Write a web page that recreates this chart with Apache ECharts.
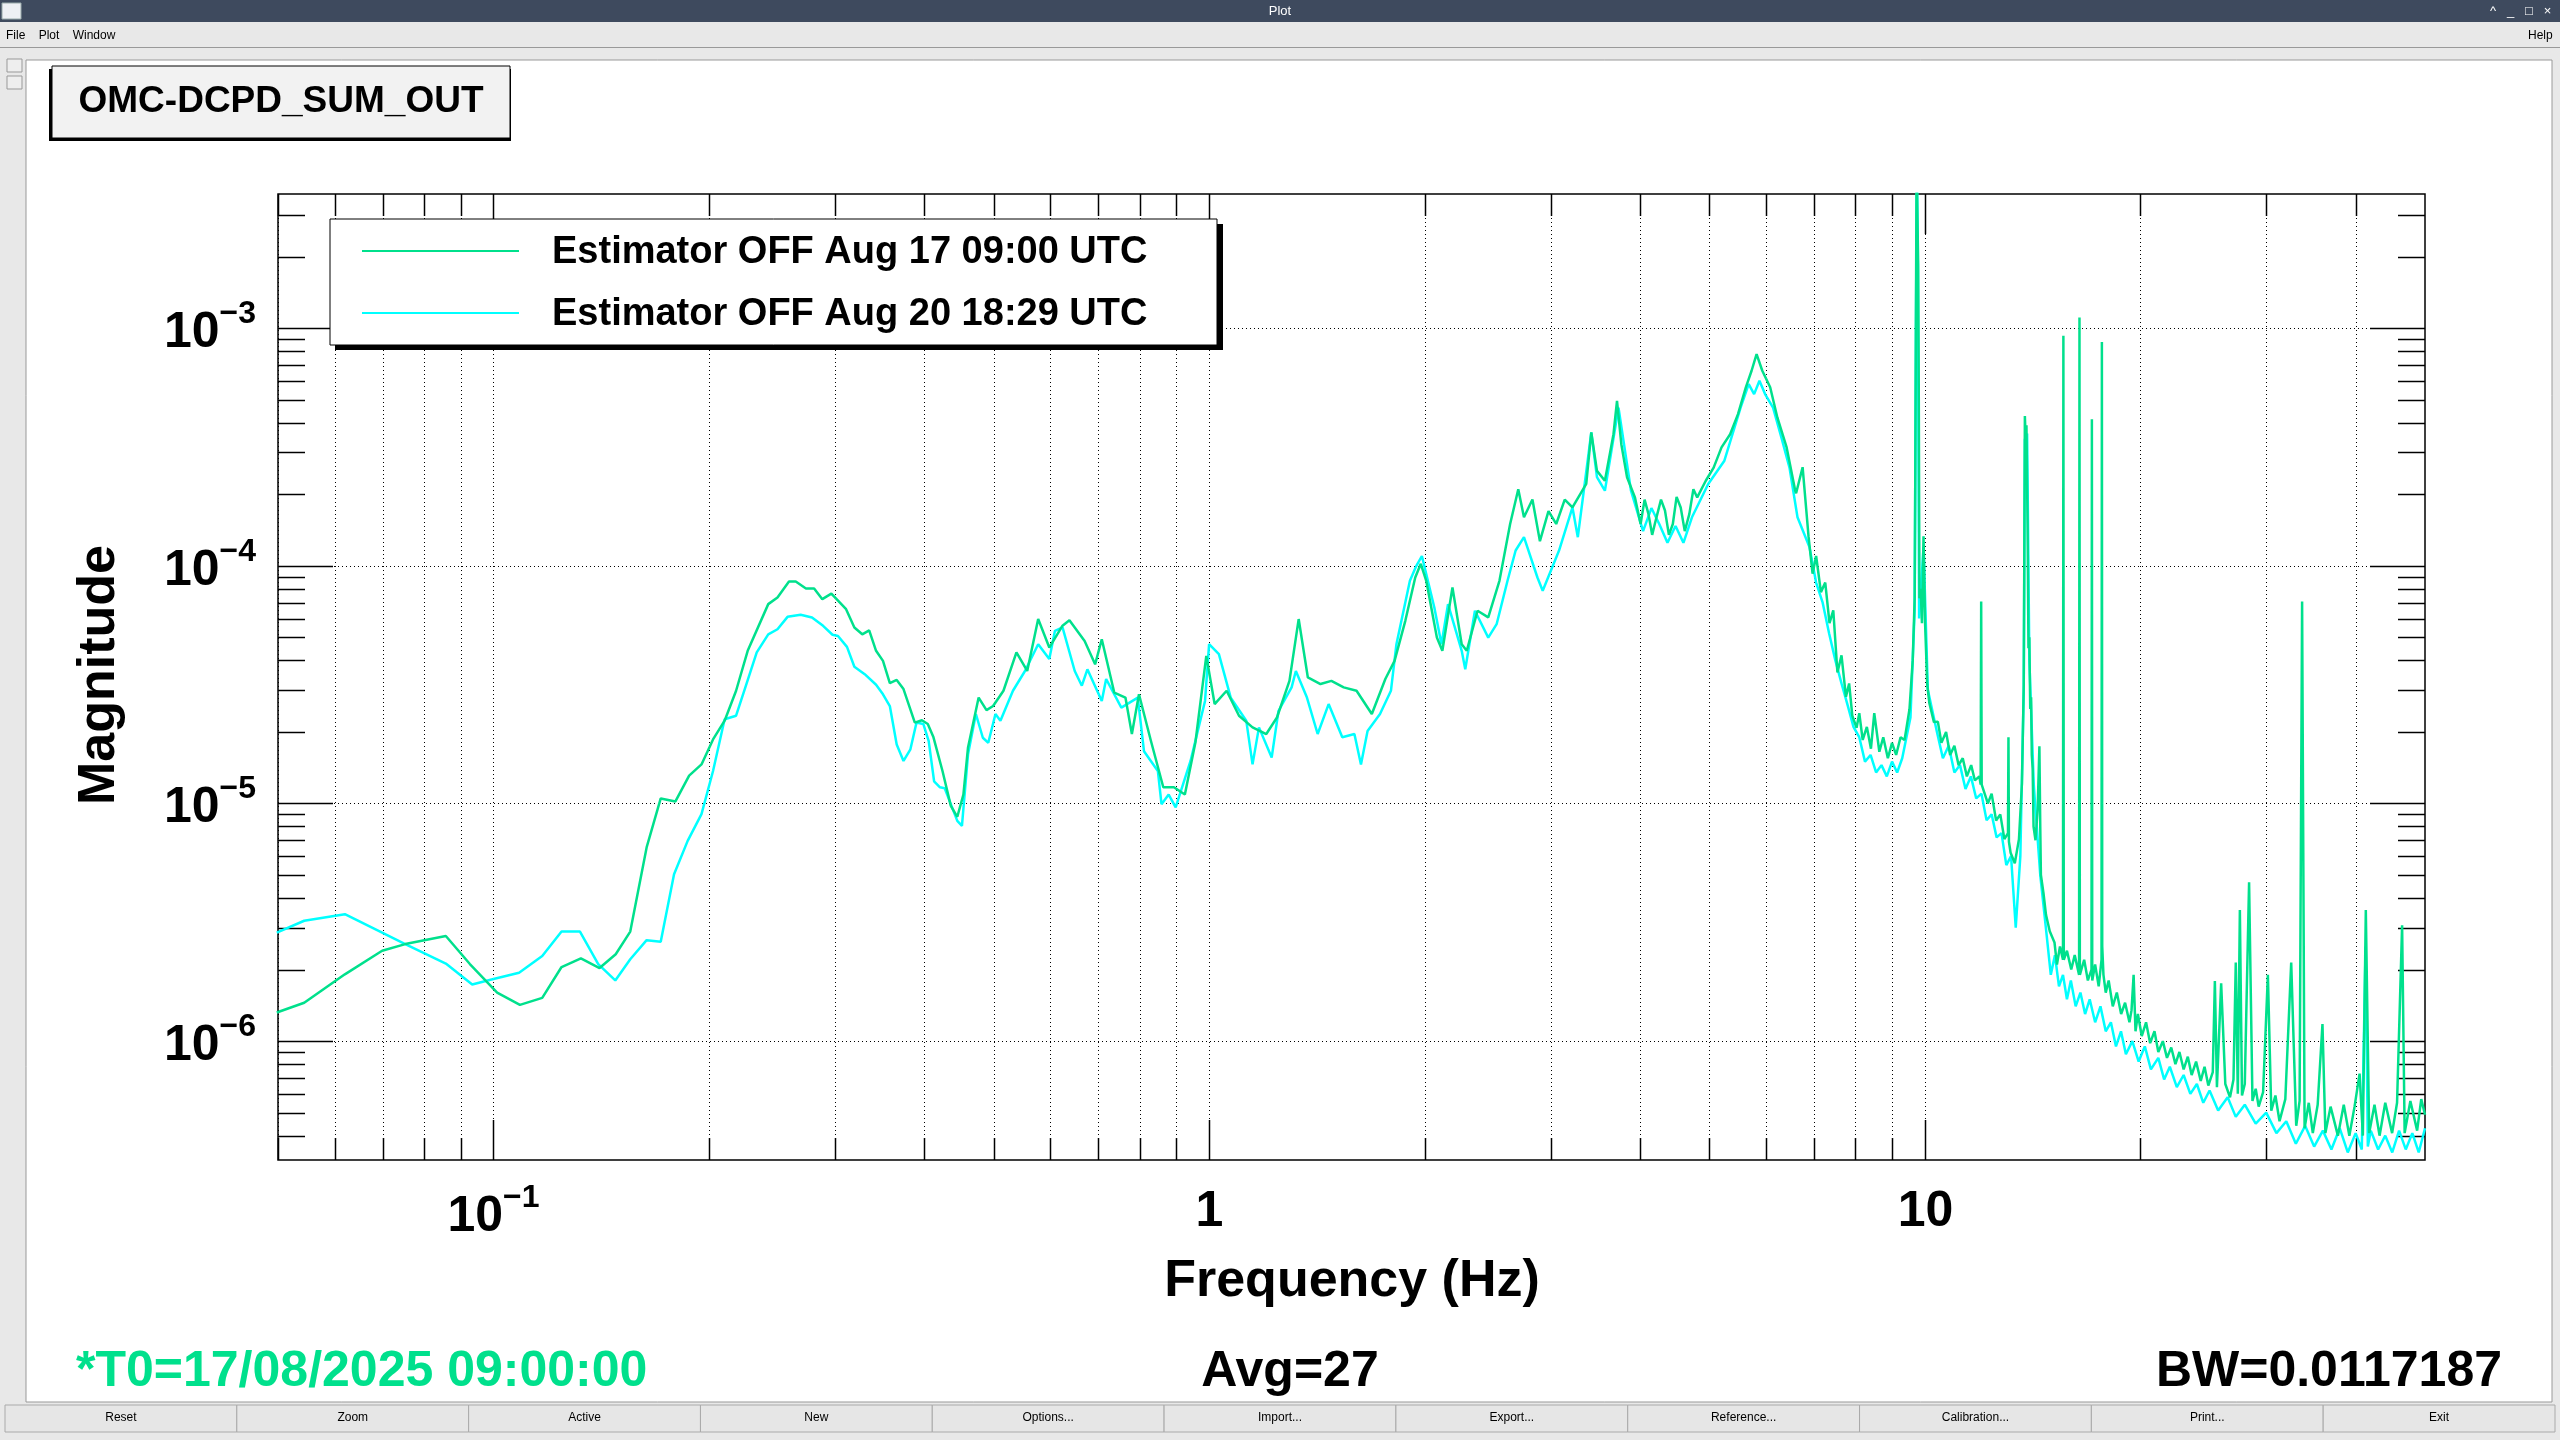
<!DOCTYPE html>
<html>
<head>
<meta charset="utf-8">
<script src="https://cdn.jsdelivr.net/npm/echarts@6/dist/echarts.min.js"></script>
<style>
  html, body { margin: 0; padding: 0; background: #e8e8e8; }
  #chart { width: 2560px; height: 1440px; }
</style>
</head>
<body>
<div id="chart"></div>
<script>
// series names (legend)
const seriesNames = ['Estimator OFF Aug 17 09:00 UTC', 'Estimator OFF Aug 20 18:29 UTC']
const seriesColors = ['#00e08c', '#00ffff']

// Aug 17 spectrum [Hz, magnitude]
const aug17 = [
  [0.0498,1.32e-6],[0.0544,1.45e-6],[0.0620,1.91e-6],[0.0699,2.40e-6],[0.0753,2.56e-6],[0.0858,2.77e-6],[0.0927,2.11e-6],[0.1012,1.60e-6],[0.1089,1.42e-6],[0.1170,1.52e-6],[0.1245,2.05e-6],[0.1325,2.23e-6],[0.1407,2.03e-6],[0.1482,2.32e-6],[0.1553,2.89e-6],[0.1637,6.53e-6],[0.1713,1.05e-5],[0.1796,1.02e-5],[0.1877,1.31e-5],[0.1953,1.46e-5],[0.2027,1.86e-5],[0.2104,2.23e-5],[0.2183,2.98e-5],[0.2266,4.39e-5],[0.2421,6.90e-5],[0.2494,7.36e-5],[0.2588,8.59e-5],[0.2645,8.59e-5],[0.2733,8.03e-5],[0.2806,8.03e-5],[0.2881,7.24e-5],[0.2966,7.64e-5],[0.3110,6.57e-5],[0.3194,5.50e-5],[0.3276,5.15e-5],[0.3350,5.35e-5],[0.3425,4.39e-5],[0.3502,3.98e-5],[0.3580,3.21e-5],[0.3660,3.31e-5],[0.3741,3.03e-5],[0.3880,2.19e-5],[0.3969,2.24e-5],[0.4045,2.16e-5],[0.4117,1.91e-5],[0.4241,1.37e-5],[0.4356,9.77e-6],[0.4448,8.79e-6],[0.4536,1.09e-5],[0.4604,1.72e-5],[0.4764,2.79e-5],[0.4886,2.47e-5],[0.4991,2.57e-5],
  [0.516,2.98e-5],[0.538,4.32e-5],[0.557,3.61e-5],[0.577,5.97e-5],[0.598,4.53e-5],[0.624,5.60e-5],[0.638,5.90e-5],[0.670,4.83e-5],[0.693,3.85e-5],[0.708,4.91e-5],[0.737,2.93e-5],[0.764,2.79e-5],[0.780,1.96e-5],[0.798,2.88e-5],[0.829,1.84e-5],[0.863,1.17e-5],[0.893,1.17e-5],[0.925,1.09e-5],[0.957,1.81e-5],[0.991,4.18e-5],[1.018,2.62e-5],[1.058,2.98e-5],[1.101,2.34e-5],[1.150,2.09e-5],[1.202,1.96e-5],[1.244,2.30e-5],[1.295,3.28e-5],[1.334,5.97e-5],[1.374,3.39e-5],[1.431,3.18e-5],[1.482,3.28e-5],[1.542,3.08e-5],[1.607,2.98e-5],[1.688,2.38e-5],[1.763,3.34e-5],[1.816,3.98e-5],[1.880,5.87e-5],[1.941,8.93e-5],[1.976,1.02e-4],[2.011,8.65e-5],[2.081,4.99e-5],[2.118,4.39e-5],[2.188,8.11e-5],[2.254,4.68e-5],[2.291,4.39e-5],[2.372,6.47e-5],[2.455,6.07e-5],[2.545,8.65e-5],[2.634,1.50e-4],[2.704,2.10e-4],[2.754,1.60e-4],[2.83,1.9e-4],[2.899,1.27e-4],[2.98,1.7e-4],[3.055,1.50e-4],[3.14,1.9e-4],[3.219,1.76e-4],[3.365,2.21e-4],[3.420,3.64e-4],[3.483,2.51e-4],[3.573,2.28e-4],[3.673,3.58e-4],[3.715,4.95e-4],[3.767,3.25e-4],[3.837,2.36e-4],[3.936,1.94e-4],[4.008,1.50e-4],[4.06,1.9e-4],[4.111,1.65e-4],[4.16,1.35e-4],[4.218,1.60e-4],[4.28,1.9e-4],[4.335,1.71e-4],[4.39,1.35e-4],[4.446,1.50e-4],[4.50,1.95e-4],[4.560,1.76e-4],[4.62,1.4e-4],[4.688,1.65e-4],[4.75,2.1e-4],[4.809,1.94e-4],[4.943,2.28e-4],[5.070,2.59e-4],[5.200,3.15e-4],[5.346,3.58e-4],[5.483,4.35e-4],[5.623,5.64e-4],[5.728,6.62e-4],[5.821,7.78e-4],[5.929,6.62e-4],[6.081,5.64e-4],[6.223,4.21e-4],[6.412,3.15e-4],[6.592,2.07e-4],
  [6.61,2.02e-4],[6.75,2.6e-4],[6.88,1.33e-4],[6.97,9.27e-5],[7.05,1.1e-4],[7.16,7.75e-5],[7.26,8.5e-5],[7.36,5.74e-5],[7.45,6.5e-5],[7.55,3.56e-5],[7.65,4.2e-5],[7.76,2.81e-5],[7.84,3.2e-5],[7.92,2.34e-5],[8.03,2.08e-5],[8.1,2.4e-5],[8.19,1.85e-5],[8.3,2.1e-5],[8.41,1.7e-5],[8.5,2.4e-5],[8.64,1.65e-5],[8.75,1.9e-5],[8.88,1.55e-5],[9.0,1.8e-5],[9.12,1.6e-5],[9.25,1.9e-5],[9.37,1.85e-5],[9.52,2.49e-5],[9.62,4.01e-5],[9.68,7.3e-5],[9.70,2.5e-4],[9.72,1.14e-3],[9.74,5e-3],[9.76,5e-3],[9.79,1.85e-3],[9.81,5e-4],[9.83,7.3e-5],[9.87,8e-5],[9.91,5.74e-5],[9.96,1.33e-4],[10.01,5.74e-5],[10.08,3.16e-5],[10.15,2.64e-5],[10.3,2.2e-5],[10.43,2.21e-5],[10.55,1.8e-5],[10.71,2.0e-5],[10.85,1.6e-5],[11.0,1.75e-5],[11.15,1.45e-5],[11.3,1.55e-5],[11.45,1.3e-5],[11.61,1.45e-5],[11.75,1.25e-5],[11.92,1.3e-5],[11.97,1.2e-5],[11.99,7.08e-5],[12.01,1.2e-5],[12.08,1.21e-5],[12.25,1.0e-5],[12.4,1.1e-5],[12.58,8.48e-6],[12.75,9e-6],[12.92,7.08e-6],[13.07,7.5e-6],[13.09,1.9e-5],[13.11,6.9e-6],[13.18,6.2e-6],[13.36,5.6e-6],[13.54,7.08e-6],[13.67,1.21e-5],[13.75,3.16e-5],[13.78,1.5e-4],[13.80,4.27e-4],[13.83,3.5e-4],[13.87,3.9e-4],[13.92,1.5e-4],[13.96,4.5e-5],[14.00,5e-5],[14.04,2.5e-5],[14.08,2.8e-5],[14.11,1.6e-5],[14.15,1.4e-5],[14.19,8e-6],[14.28,7e-6],[14.38,9.5e-6],[14.46,1.74e-5],[14.50,8e-6],[14.53,5e-6],[14.65,4.2e-6],[14.77,3.4e-6],[14.95,2.9e-6],[15.18,2.6e-6],[15.3,2.1e-6],[15.45,2.5e-6],[15.6,2.2e-6],[15.62,9.29e-4],[15.64,2.2e-6],[15.8,2.4e-6],[16.02,2.0e-6],[16.2,2.3e-6],[16.43,1.9e-6],[16.45,1.11e-3],[16.47,1.9e-6],[16.7,2.2e-6],[16.9,1.8e-6],[17.10,2.0e-6],[17.12,4.14e-4],[17.14,1.8e-6],[17.3,2.1e-6],[17.5,1.7e-6],[17.66,2.2e-6],[17.68,8.75e-4],[17.70,2.5e-6],[17.77,1.9e-6],[17.9,1.6e-6],[18.07,1.8e-6],[18.31,1.4e-6],[18.55,1.6e-6],[18.81,1.3e-6],[19.05,1.45e-6],[19.32,1.2e-6],[19.45,1.35e-6],[19.58,1.9e-6],[19.7,1.1e-6],[19.85,1.3e-6],[20.1,1.05e-6],[20.38,1.2e-6],[20.65,9.8e-7],[20.94,1.1e-6],[21.2,9e-7],[21.51,1.0e-6],[21.8,8.5e-7],[22.1,9.4e-7],[22.4,8e-7],[22.69,9e-7],[23.0,7.6e-7],[23.31,8.6e-7],[23.6,7.2e-7],[23.94,8.2e-7],[24.3,6.8e-7],[24.6,7.8e-7],[24.9,6.5e-7],[25.26,7.4e-7],[25.43,1.79e-6],[25.6,6.4e-7],[25.95,1.75e-6],[26.3,6.6e-7],[26.7,5.8e-7],[27.0,6.9e-7],[27.2,2.14e-6],[27.38,6.0e-7],[27.56,3.56e-6],[27.75,5.9e-7],[28.0,6.6e-7],[28.39,4.66e-6],[28.7,5.6e-7],[29.0,6.3e-7],[29.28,5.3e-7],[29.7,6.1e-7],[30.16,1.9e-6],[30.49,5.1e-7],[30.9,5.9e-7],[31.31,4.6e-7],[31.9,5.7e-7],[32.51,2.14e-6],[33.04,4.4e-7],[33.4,5.6e-7],[33.67,7.08e-5],[33.94,4.3e-7],[34.4,5.5e-7],[34.85,4.1e-7],[35.4,5.4e-7],[35.95,1.18e-6],[36.29,4.1e-7],[36.9,5.3e-7],[37.78,4.0e-7],[38.5,5.4e-7],[39.2,4.0e-7],[39.86,5.3e-7],[40.51,7.3e-7],[40.94,4.0e-7],[41.33,3.56e-6],[41.78,4.1e-7],[42.5,5.4e-7],[43.2,4.0e-7],[44.0,5.5e-7],[44.98,4.1e-7],[45.7,5.5e-7],[46.45,3.07e-6],[46.83,4.1e-7],[47.7,5.6e-7],[48.75,4.2e-7],[49.4,5.7e-7],[50,4.9e-7]
]

// Aug 20 spectrum [Hz, magnitude]
const aug20 = [
  [0.0498,2.86e-6],[0.0544,3.21e-6],[0.0620,3.42e-6],[0.0699,2.86e-6],[0.0753,2.56e-6],[0.0858,2.12e-6],[0.0934,1.73e-6],[0.0997,1.82e-6],[0.1086,1.94e-6],[0.1170,2.28e-6],[0.1245,2.89e-6],[0.1321,2.89e-6],[0.1401,2.11e-6],[0.1480,1.80e-6],[0.1553,2.21e-6],[0.1637,2.66e-6],[0.1713,2.62e-6],[0.1788,5.04e-6],[0.1868,6.96e-6],[0.1953,9.02e-6],[0.2027,1.37e-5],[0.2104,2.26e-5],[0.2183,2.34e-5],[0.2249,3.08e-5],[0.2333,4.32e-5],[0.2421,5.15e-5],[0.2494,5.41e-5],[0.2576,6.10e-5],[0.2687,6.22e-5],[0.2787,6.06e-5],[0.2888,5.59e-5],[0.2977,5.13e-5],[0.3030,5.07e-5],[0.3119,4.56e-5],[0.3194,3.76e-5],[0.3302,3.50e-5],[0.3425,3.16e-5],[0.3502,2.88e-5],[0.3580,2.57e-5],[0.3660,1.77e-5],[0.3741,1.51e-5],[0.3825,1.69e-5],[0.3901,2.19e-5],[0.3987,2.16e-5],[0.4057,1.83e-5],[0.4128,1.24e-5],[0.4207,1.17e-5],[0.4270,1.16e-5],[0.4448,8.45e-6],[0.4515,8.05e-6],[0.4604,1.61e-5],[0.4722,2.38e-5],[0.4829,1.89e-5],[0.4914,1.80e-5],[0.5029,2.38e-5],
  [0.511,2.23e-5],[0.532,2.98e-5],[0.553,3.61e-5],[0.577,4.68e-5],[0.598,4.05e-5],[0.609,5.33e-5],[0.624,5.51e-5],[0.649,3.61e-5],[0.664,3.13e-5],[0.676,3.67e-5],[0.708,2.70e-5],[0.718,3.34e-5],[0.754,2.53e-5],[0.795,2.79e-5],[0.811,1.66e-5],[0.848,1.37e-5],[0.858,9.93e-6],[0.878,1.09e-5],[0.898,9.62e-6],[0.942,1.51e-5],[0.987,2.70e-5],[1.000,4.68e-5],[1.032,4.25e-5],[1.072,2.79e-5],[1.127,2.23e-5],[1.150,1.46e-5],[1.174,2.09e-5],[1.223,1.56e-5],[1.250,2.45e-5],[1.304,3.08e-5],[1.322,3.61e-5],[1.370,2.79e-5],[1.418,1.96e-5],[1.469,2.62e-5],[1.535,1.90e-5],[1.596,1.96e-5],[1.630,1.46e-5],[1.665,2.02e-5],[1.733,2.38e-5],[1.795,2.98e-5],[1.827,4.68e-5],[1.908,8.65e-5],[1.948,1.00e-4],[1.983,1.10e-4],[2.064,6.68e-5],[2.112,4.68e-5],[2.157,6.90e-5],[2.254,4.39e-5],[2.280,3.67e-5],[2.352,6.47e-5],[2.455,4.99e-5],[2.522,5.68e-5],[2.612,8.65e-5],[2.681,1.16e-4],[2.754,1.32e-4],[2.876,8.93e-5],[2.925,7.85e-5],[3.083,1.16e-4],[3.219,1.76e-4],[3.275,1.32e-4],[3.420,3.64e-4],[3.483,2.36e-4],[3.573,2.07e-4],[3.733,4.63e-4],[3.886,2.07e-4],[4.040,1.40e-4],[4.15,1.75e-4],[4.256,1.50e-4],[4.37,1.25e-4],[4.485,1.47e-4],[4.60,1.25e-4],[4.728,1.60e-4],[4.982,2.21e-4],[5.248,2.77e-4],[5.529,4.63e-4],[5.675,5.82e-4],[5.775,5.28e-4],[5.875,6.01e-4],[5.982,5.28e-4],[6.138,4.63e-4],[6.304,3.47e-4],[6.471,2.59e-4],[6.640,1.60e-4],
  [6.9,1.2e-4],[7.05,8.5e-5],[7.2,7e-5],[7.35,5.2e-5],[7.5,4e-5],[7.65,3.2e-5],[7.8,2.6e-5],[7.95,2.1e-5],[8.1,1.9e-5],[8.25,1.5e-5],[8.4,1.6e-5],[8.55,1.35e-5],[8.7,1.45e-5],[8.85,1.3e-5],[9.0,1.5e-5],[9.15,1.35e-5],[9.3,1.55e-5],[9.55,2.3e-5],[9.68,6.5e-5],[9.72,1e-3],[9.75,5e-3],[9.78,1.8e-3],[9.82,6e-5],[9.96,1.2e-4],[10.1,3e-5],[10.4,2e-5],[10.6,1.55e-5],[10.8,1.75e-5],[11.0,1.35e-5],[11.2,1.45e-5],[11.4,1.15e-5],[11.6,1.3e-5],[11.8,1.05e-5],[12.0,1.1e-5],[12.2,8.5e-6],[12.4,9e-6],[12.6,7.2e-6],[12.8,7.5e-6],[13.0,5.5e-6],[13.2,6e-6],[13.4,3.0e-6],[13.6,6e-6],[13.75,3e-5],[13.8,3.4e-4],[13.9,3.6e-4],[14.0,4e-5],[14.2,1.2e-5],[14.5,5e-6],[14.8,2.8e-6],[15.0,1.9e-6],[15.2,2.3e-6],[15.4,1.7e-6],[15.6,1.9e-6],[15.8,1.5e-6],[16.0,1.8e-6],[16.25,1.4e-6],[16.5,1.6e-6],[16.75,1.3e-6],[17.0,1.5e-6],[17.3,1.2e-6],[17.6,1.4e-6],[17.9,1.1e-6],[18.2,1.2e-6],[18.5,9.5e-7],[18.8,1.1e-6],[19.1,8.8e-7],[19.5,1.0e-6],[19.9,8.2e-7],[20.3,9.5e-7],[20.7,7.6e-7],[21.2,8.5e-7],[21.6,6.9e-7],[22.0,7.8e-7],[22.5,6.4e-7],[23.0,7.2e-7],[23.5,6.0e-7],[24.0,6.6e-7],[24.5,5.5e-7],[25.0,6.2e-7],[25.7,5.1e-7],[26.5,5.8e-7],[27.2,4.8e-7],[28.0,5.4e-7],[29.0,4.5e-7],[30.0,5.0e-7],[31.0,4.1e-7],[32.0,4.6e-7],[33.0,3.7e-7],[34.0,4.4e-7],[35.0,3.6e-7],[36.0,4.2e-7],[37.0,3.5e-7],[38.0,4.3e-7],[39.0,3.4e-7],[40.0,4.1e-7],[40.8,3.5e-7],[41.3,2.5e-6],[41.6,3.6e-7],[42.0,4.2e-7],[43.0,3.5e-7],[44.0,4.0e-7],[45.0,3.4e-7],[46.0,4.2e-7],[47.0,3.5e-7],[48.0,4.1e-7],[49.0,3.4e-7],[50.0,4.3e-7]
]

// axis ticks
const xMajor = [0.1, 1, 10]
const xMajorLabels = [['10', '\u22121'], ['1', ''], ['10', '']]
const xMinor = [0.05,0.06,0.07,0.08,0.09,0.2,0.3,0.4,0.5,0.6,0.7,0.8,0.9,2,3,4,5,6,7,8,9,20,30,40]
const yMajor = [1e-6, 1e-5, 1e-4, 1e-3]
const yMajorLabels = ['\u22126', '\u22125', '\u22124', '\u22123']
const yMinor = [4e-7,5e-7,6e-7,7e-7,8e-7,9e-7,2e-6,3e-6,4e-6,5e-6,6e-6,7e-6,8e-6,9e-6,2e-5,3e-5,4e-5,5e-5,6e-5,7e-5,8e-5,9e-5,2e-4,3e-4,4e-4,5e-4,6e-4,7e-4,8e-4,9e-4,2e-3,3e-3]

const buttons = ['Reset','Zoom','Active','New','Options...','Import...','Export...','Reference...','Calibration...','Print...','Exit']

const FONT = '"Liberation Sans", Arial, sans-serif'
const dotted = { stroke: '#000', lineWidth: 1, lineDash: [1, 3] }
const solid = { stroke: '#000', lineWidth: 1.5 }
const tickRich = {
  b: { fontFamily: FONT, fontWeight: 'bold', fontSize: 50, fill: '#000', verticalAlign: 'bottom' },
  s: { fontFamily: FONT, fontWeight: 'bold', fontSize: 32, fill: '#000', verticalAlign: 'top', padding: [0, 0, 28, 0] }
}

function xTicks(major) {
  return function (params, api) {
    const cs = params.coordSys
    const x = Math.round(api.coord([api.value(0), 1e-5])[0]) + 0.5
    const len = major ? 40 : 22
    const bottom = cs.y + cs.height
    const kids = [
      { type: 'line', shape: { x1: x, y1: cs.y, x2: x, y2: bottom }, style: dotted },
      { type: 'line', shape: { x1: x, y1: bottom, x2: x, y2: bottom - len }, style: solid },
      { type: 'line', shape: { x1: x, y1: cs.y, x2: x, y2: cs.y + len }, style: solid }
    ]
    if (major) {
      const lab = xMajorLabels[params.dataIndex]
      kids.push({
        type: 'text', x: x, y: bottom + 52,
        style: {
          text: '{b|' + lab[0] + '}' + (lab[1] ? '{s|' + lab[1] + '}' : ''),
          align: 'center', verticalAlign: 'middle', rich: tickRich
        }
      })
    }
    return { type: 'group', children: kids }
  }
}

function yTicks(major) {
  return function (params, api) {
    const cs = params.coordSys
    const y = Math.round(api.coord([1, api.value(1)])[1]) + 0.5
    const len = major ? 55 : 27
    const right = cs.x + cs.width
    const kids = [
      { type: 'line', shape: { x1: cs.x, y1: y, x2: cs.x + len, y2: y }, style: solid },
      { type: 'line', shape: { x1: right, y1: y, x2: right - len, y2: y }, style: solid }
    ]
    if (major) {
      kids.push({ type: 'line', shape: { x1: cs.x, y1: y, x2: right, y2: y }, style: dotted })
      kids.push({
        type: 'text', x: cs.x - 22, y: y,
        style: {
          text: '{b|10}{s|' + yMajorLabels[params.dataIndex] + '}',
          align: 'right', verticalAlign: 'middle', rich: tickRich
        }
      })
    }
    return { type: 'group', children: kids }
  }
}

// window chrome, title box, legend, footer texts
const graphics = [
  { type: 'rect', shape: { x: 0, y: 0, width: 2560, height: 22 }, style: { fill: '#3e4a5e' } },
  { type: 'rect', shape: { x: 2, y: 3, width: 19, height: 16 }, style: { fill: '#eef0f4', stroke: '#9aa', lineWidth: 1 } },
  { type: 'text', x: 1280, y: 11, style: { text: 'Plot', fill: '#fff', font: '13px ' + FONT, align: 'center', verticalAlign: 'middle' } },
  { type: 'text', x: 2490, y: 11, style: { text: '^   _   \u25a1   \u00d7', fill: '#fff', font: '13px ' + FONT, verticalAlign: 'middle' } },
  { type: 'text', x: 6, y: 36, style: { text: 'File    Plot    Window', fill: '#000', font: '12px ' + FONT, verticalAlign: 'middle' } },
  { type: 'text', x: 2528, y: 36, style: { text: 'Help', fill: '#000', font: '12px ' + FONT, verticalAlign: 'middle' } },
  { type: 'line', shape: { x1: 0, y1: 47.5, x2: 2560, y2: 47.5 }, style: { stroke: '#999', lineWidth: 1 } },
  { type: 'rect', shape: { x: 7, y: 59, width: 15, height: 13 }, style: { fill: '#eee', stroke: '#999' } },
  { type: 'rect', shape: { x: 7, y: 76, width: 15, height: 13 }, style: { fill: '#eee', stroke: '#999' } },
  { type: 'rect', shape: { x: 26, y: 60, width: 2526, height: 1342 }, style: { fill: '#fff', stroke: '#999', lineWidth: 1 }, z: -10 },
  // title box
  { type: 'rect', shape: { x: 49, y: 69, width: 462, height: 72 }, style: { fill: '#000' } },
  { type: 'rect', shape: { x: 52, y: 66, width: 458, height: 72 }, style: { fill: '#f2f2f2', stroke: '#000', lineWidth: 1 } },
  { type: 'text', x: 281, y: 102, style: { text: 'OMC-DCPD_SUM_OUT', fill: '#000', font: 'bold 37px ' + FONT, align: 'center', verticalAlign: 'middle' } },
  // legend box
  { type: 'rect', shape: { x: 335, y: 224, width: 888, height: 126 }, style: { fill: '#000' }, z: 20 },
  { type: 'rect', shape: { x: 330, y: 219, width: 887, height: 126 }, style: { fill: '#fff', stroke: '#000', lineWidth: 1 }, z: 21 },
  { type: 'line', shape: { x1: 362, y1: 251, x2: 519, y2: 251 }, style: { stroke: seriesColors[0], lineWidth: 2 }, z: 22 },
  { type: 'line', shape: { x1: 362, y1: 313, x2: 519, y2: 313 }, style: { stroke: seriesColors[1], lineWidth: 2 }, z: 22 },
  { type: 'text', x: 552, y: 253, style: { text: seriesNames[0], fill: '#000', font: 'bold 38px ' + FONT, verticalAlign: 'middle' }, z: 22 },
  { type: 'text', x: 552, y: 315, style: { text: seriesNames[1], fill: '#000', font: 'bold 38px ' + FONT, verticalAlign: 'middle' }, z: 22 },
  // axis names
  { type: 'text', x: 100, y: 675, rotation: Math.PI / 2, style: { text: 'Magnitude', fill: '#000', font: 'bold 52px ' + FONT, align: 'center', verticalAlign: 'middle' } },
  { type: 'text', x: 1352, y: 1282, style: { text: 'Frequency (Hz)', fill: '#000', font: 'bold 52px ' + FONT, align: 'center', verticalAlign: 'middle' } },
  // footer
  { type: 'text', x: 76, y: 1372, style: { text: '*T0=17/08/2025 09:00:00', fill: '#00e08c', font: 'bold 50px ' + FONT, verticalAlign: 'middle' } },
  { type: 'text', x: 1290, y: 1372, style: { text: 'Avg=27', fill: '#000', font: 'bold 50px ' + FONT, align: 'center', verticalAlign: 'middle' } },
  { type: 'text', x: 2502, y: 1372, style: { text: 'BW=0.0117187', fill: '#000', font: 'bold 50px ' + FONT, align: 'right', verticalAlign: 'middle' } }
]
const bw = 2550 / buttons.length
buttons.forEach((b, i) => {
  graphics.push({ type: 'rect', shape: { x: 5 + i * bw, y: 1405, width: bw, height: 27 }, style: { fill: '#e6e6e6', stroke: '#aaa', lineWidth: 1 } })
  graphics.push({ type: 'text', x: 5 + i * bw + bw / 2, y: 1418, style: { text: b, fill: '#000', font: '12px ' + FONT, align: 'center', verticalAlign: 'middle' } })
})

const chart = echarts.init(document.getElementById('chart'))
chart.setOption({
  animation: false,
  backgroundColor: '#e8e8e8',
  grid: { left: 278, top: 194, width: 2147, height: 966, show: true, borderColor: '#000', borderWidth: 1.5, backgroundColor: 'transparent' },
  xAxis: {
    type: 'log', logBase: 10, min: 0.05, max: 50,
    axisLine: { show: false }, axisTick: { show: false }, axisLabel: { show: false }, splitLine: { show: false }
  },
  yAxis: {
    type: 'log', logBase: 10, min: 3.16e-7, max: 3.67e-3,
    axisLine: { show: false }, axisTick: { show: false }, axisLabel: { show: false }, splitLine: { show: false }
  },
  graphic: graphics,
  series: [
    { type: 'custom', renderItem: xTicks(false), data: xMinor.map(v => [v, 1e-5]), z: 1, silent: true },
    { type: 'custom', renderItem: xTicks(true), data: xMajor.map(v => [v, 1e-5]), z: 1, silent: true },
    { type: 'custom', renderItem: yTicks(false), data: yMinor.map(v => [1, v]), z: 1, silent: true },
    { type: 'custom', renderItem: yTicks(true), data: yMajor.map(v => [1, v]), z: 1, silent: true },
    { name: seriesNames[1], type: 'line', data: aug20, showSymbol: false, clip: true, z: 2,
      lineStyle: { color: seriesColors[1], width: 2.5 }, itemStyle: { color: seriesColors[1] } },
    { name: seriesNames[0], type: 'line', data: aug17, showSymbol: false, clip: true, z: 3,
      lineStyle: { color: seriesColors[0], width: 2.5 }, itemStyle: { color: seriesColors[0] } }
  ]
})
</script>
</body>
</html>
